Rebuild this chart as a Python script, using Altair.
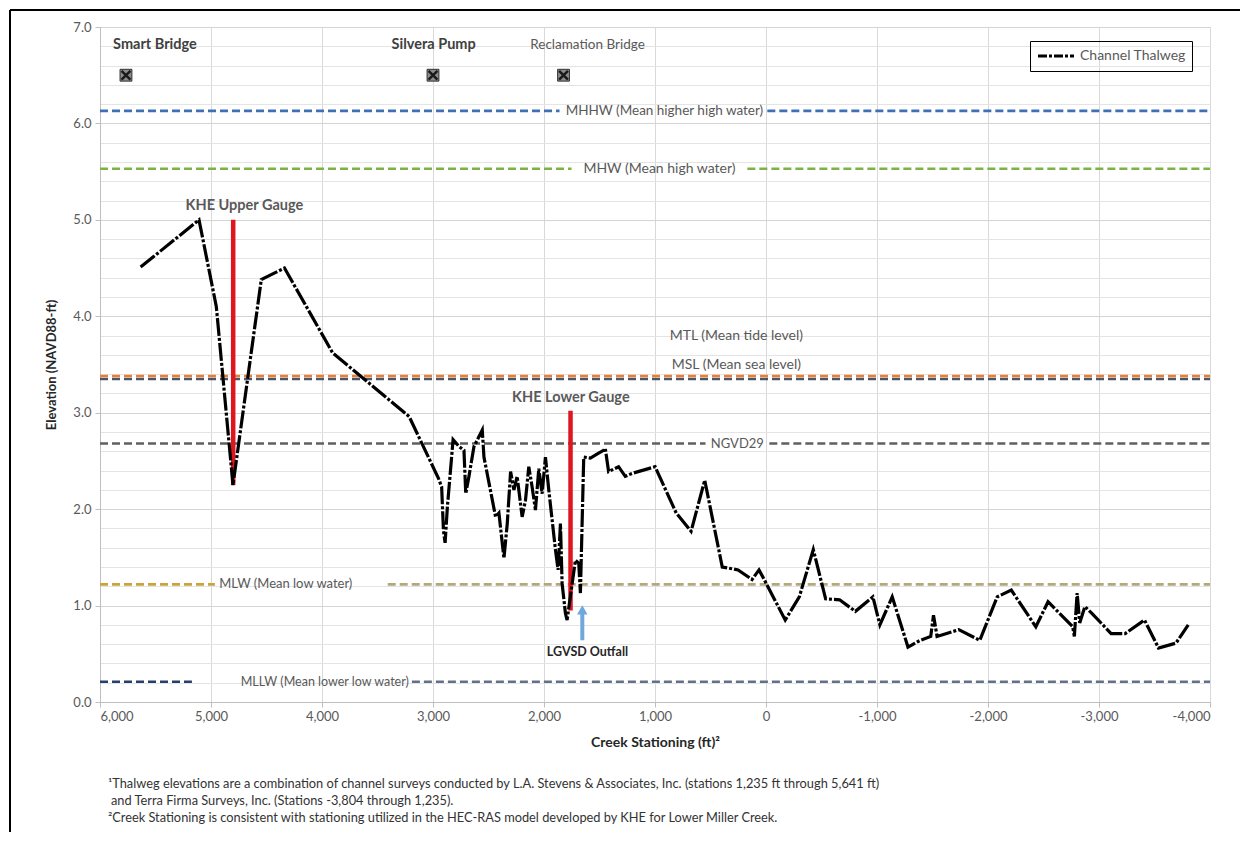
import altair as alt
import pandas as pd

# ---------------- data ----------------
thal_station = [5634, 5108, 4952, 4802, 4547, 4338, 3904, 3215, 2951, 2922, 2906, 2891, 2870,
                2819, 2765, 2721, 2705, 2676, 2631, 2556, 2541, 2436, 2406, 2361, 2331, 2301,
                2271, 2242, 2197, 2167, 2137, 2107, 2077, 2047, 2017, 1987, 1957, 1897, 1873,
                1852, 1837, 1807, 1792, 1717, 1687, 1672, 1642, 1582, 1508, 1463, 1448, 1433,
                1418, 1328, 1268, 1208, 999, 809, 675, 552, 394, 252, 126, 63, 16, -173, -300,
                -426, -537, -663, -805, -963, -1026, -1137, -1279, -1390, -1484, -1509, -1541,
                -1737, -1926, -2083, -2210, -2431, -2541, -2763, -2778, -2803, -2826, -2873,
                -2936, -3109, -3236, -3410, -3536, -3693, -3804]
thal_elev = [4.51, 5.00, 4.10, 2.25, 4.38, 4.50, 3.62, 2.96, 2.32, 2.23, 1.78, 1.65, 2.03,
             2.72, 2.65, 2.61, 2.16, 2.34, 2.65, 2.82, 2.54, 1.92, 1.96, 1.49, 1.85, 2.39,
             2.20, 2.34, 1.92, 2.09, 2.44, 2.23, 1.99, 2.42, 2.16, 2.54, 2.20, 1.58, 1.37,
             1.85, 1.23, 0.92, 0.85, 1.47, 1.44, 1.13, 2.54, 2.53, 2.58, 2.61, 2.63, 2.51,
             2.39, 2.44, 2.34, 2.37, 2.44, 1.96, 1.77, 2.30, 1.40, 1.37, 1.27, 1.37, 1.27,
             0.85, 1.09, 1.58, 1.07, 1.06, 0.94, 1.09, 0.80, 1.09, 0.57, 0.64, 0.68, 0.90,
             0.68, 0.75, 0.64, 1.09, 1.16, 0.78, 1.04, 0.78, 0.68, 1.13, 0.82, 0.99, 0.92,
             0.71, 0.71, 0.85, 0.56, 0.61, 0.80]

# tidal datums: segments (start station, end station, elevation, colour)
datum_names = ["MHHW", "MHHW", "MHW", "MHW", "MTL", "MSL", "NGVD29", "NGVD29", "MLW", "MLW", "MLLW", "MLLW"]
datum_start = [6000, -12, 6000, 168, 6000, 6000, 6000, -30, 6000, 3408, 6000, 3190]
datum_end = [1860, -4000, 1752, -4000, -4000, -4000, 545, -4000, 4965, -4000, 5172, -4000]
datum_elev = [6.13, 6.13, 5.53, 5.53, 3.38, 3.35, 2.68, 2.68, 1.22, 1.22, 0.21, 0.21]
datum_color = ["#3f6fb5", "#3f6fb5", "#7cb342", "#7cb342", "#ed7d31", "#4a5568",
               "#606060", "#606060", "#c9a43a", "#b3a77e", "#24406e", "#62708e"]

datum_label_text = ["MHHW (Mean higher high water)", "MHW (Mean high water)", "MTL (Mean tide level)",
                    "MSL (Mean sea level)", "NGVD29", "MLW (Mean low water)", "MLLW (Mean lower low water)"]
datum_label_station = [915, 960, 267, 267, 258, 4326, 3975]
datum_label_elev = [6.13, 5.53, 3.80, 3.50, 2.68, 1.22, 0.21]
datum_label_size = [13.5, 14, 14, 14, 13, 13, 12.5]

# landmarks along top
landmark_names = ["Smart Bridge", "Silvera Pump", "Reclamation Bridge"]
landmark_station = [5766, 3000, 1824]
landmark_label_station = [5505, 2994, 1608]
landmark_marker_elev = 6.5
landmark_label_elev = 6.81
landmark_bold = [True, True, False]

# gauges
gauge_names = ["KHE Upper Gauge", "KHE Lower Gauge"]
gauge_station = [4800, 1761]
gauge_bottom = [2.25, 0.95]
gauge_top = [5.0, 3.02]
gauge_label_station = [4699, 1758]
gauge_label_elev = [5.14, 3.15]

outfall_name = "LGVSD Outfall"
outfall_station = 1655
outfall_bottom = 0.64
outfall_top = 0.93
outfall_head = 0.955
outfall_label_station = 1608
outfall_label_elev = 0.52

x_ticks = [6000, 5000, 4000, 3000, 2000, 1000, 0, -1000, -2000, -3000, -4000]
y_grid = [round(i * 0.2, 1) for i in range(36)]

footnotes = [
    "¹Thalweg elevations are a combination of channel surveys conducted by L.A. Stevens & Associates, Inc. (stations 1,235 ft through 5,641 ft)",
    " and Terra Firma Surveys, Inc. (Stations -3,804 through 1,235).",
    "²Creek Stationing is consistent with stationing utilized in the HEC-RAS model developed by KHE for Lower Miller Creek.",
]

FONT = "Lato"

# ---------------- encodings ----------------
x_enc = alt.X("station:Q",
              scale=alt.Scale(domain=[-4000, 6000], reverse=True, nice=False, zero=False),
              axis=alt.Axis(values=x_ticks, title="Creek Stationing (ft)²",
                            labelExpr="replace(format(datum.value, ','), '\u2212', '-')",
                            grid=True, gridColor="#d9d9d9", gridWidth=1,
                            domainColor="#bfbfbf", tickColor="#bfbfbf", tickSize=5,
                            labelPadding=3, labelFont=FONT, labelFontSize=13, labelColor="#595959",
                            titleFont=FONT, titleFontSize=14, titleFontWeight="bold",
                            titleColor="#262626", titlePadding=12))
y_enc = alt.Y("elev:Q",
              scale=alt.Scale(domain=[0, 7], nice=False, zero=True),
              axis=alt.Axis(values=y_grid, title="Elevation (NAVD88-ft)",
                            labelExpr="abs(datum.value - round(datum.value)) < 0.001 ? format(datum.value, '.1f') : ''",
                            grid=True,
                            gridColor={"condition": {"test": "abs(datum.value - round(datum.value)) < 0.001", "value": "#d4d4d4"}, "value": "#e4e4e4"},
                            tickOpacity={"condition": {"test": "abs(datum.value - round(datum.value)) < 0.001", "value": 1}, "value": 0},
                            domainColor="#bfbfbf", tickColor="#bfbfbf", tickSize=5,
                            labelPadding=4, labelFont=FONT, labelFontSize=13, labelColor="#595959",
                            titleFont=FONT, titleFontSize=13, titleFontWeight="bold",
                            titleColor="#262626", titlePadding=14))

# ---------------- layers ----------------
thal_df = pd.DataFrame({"station": thal_station, "elev": thal_elev,
                        "idx": list(range(len(thal_station))),
                        "series": ["Channel Thalweg"] * len(thal_station)})

datum_df = pd.DataFrame({"station": datum_start, "station2": datum_end, "elev": datum_elev,
                         "color": datum_color, "name": datum_names})
datum_lines = alt.Chart(datum_df).mark_rule(strokeWidth=2.6, strokeDash=[8, 4]).encode(
    x=x_enc, x2="station2:Q", y=y_enc, color=alt.Color("color:N", scale=None))

datum_labels = alt.Chart(pd.DataFrame({"station": datum_label_station, "elev": datum_label_elev,
                                       "text": datum_label_text, "fs": datum_label_size})).mark_text(
    font=FONT, color="#595959", align="center", baseline="middle").encode(
    x=x_enc, y=y_enc, text="text:N", size=alt.Size("fs:Q", scale=None))

thal_line = alt.Chart(thal_df).mark_line(strokeWidth=3.2, strokeDash=[18, 2, 3, 2]).encode(
    x=x_enc, y=y_enc, order="idx:Q",
    color=alt.Color("series:N", scale=alt.Scale(range=["black"]),
                    legend=alt.Legend(orient="none", legendX=930, legendY=14, title=None,
                                      strokeColor="black", padding=6, symbolType="stroke",
                                      symbolStrokeWidth=3, symbolDash=[9, 2, 3, 2], symbolSize=1300,
                                      symbolStrokeColor="black", clipHeight=18,
                                      labelFont=FONT, labelFontSize=14, labelColor="#595959")))

gauge_df = pd.DataFrame({"station": gauge_station, "elev": gauge_bottom, "elev2": gauge_top})
gauge_rules = alt.Chart(gauge_df).mark_rule(strokeWidth=4.5, color="#e0161f").encode(
    x=x_enc, y=y_enc, y2="elev2:Q")
gauge_labels = alt.Chart(pd.DataFrame({"station": gauge_label_station, "elev": gauge_label_elev,
                                       "text": gauge_names})).mark_text(
    font=FONT, fontSize=14.5, fontWeight="bold", color="#595959", baseline="middle").encode(
    x=x_enc, y=y_enc, text="text:N")

out_df = pd.DataFrame({"station": [outfall_station], "elev": [outfall_bottom], "elev2": [outfall_top]})
out_rule = alt.Chart(out_df).mark_rule(strokeWidth=4, color="#6fa8dc").encode(
    x=x_enc, y=y_enc, y2="elev2:Q")
out_head = alt.Chart(pd.DataFrame({"station": [outfall_station], "elev": [outfall_head]})).mark_point(
    shape="triangle-up", filled=True, size=110, color="#6fa8dc", opacity=1).encode(x=x_enc, y=y_enc)
out_label = alt.Chart(pd.DataFrame({"station": [outfall_label_station], "elev": [outfall_label_elev],
                                    "text": [outfall_name]})).mark_text(
    font=FONT, fontSize=12.5, fontWeight="bold", color="#262626", baseline="middle").encode(
    x=x_enc, y=y_enc, text="text:N")

lm_df = pd.DataFrame({"station": landmark_station, "elev": [landmark_marker_elev] * 3})
lm_square = alt.Chart(lm_df).mark_point(shape="square", filled=True, size=140, color="#8c8c8c",
                                        opacity=1, stroke="#303030", strokeWidth=1).encode(x=x_enc, y=y_enc)
lm_cross = alt.Chart(lm_df).mark_point(shape="M-0.75,-0.75L0.75,0.75M0.75,-0.75L-0.75,0.75",
                                       filled=False, size=140, color="#1a1a1a", strokeWidth=2.5,
                                       opacity=1).encode(x=x_enc, y=y_enc)
lm_lab_df = pd.DataFrame({"station": landmark_label_station, "elev": [landmark_label_elev] * 3,
                          "text": landmark_names,
                          "w": ["bold" if b else "normal" for b in landmark_bold]})
lm_labels_b = alt.Chart(lm_lab_df[lm_lab_df.w == "bold"]).mark_text(
    font=FONT, fontSize=14.5, fontWeight="bold", color="#404040", baseline="middle").encode(
    x=x_enc, y=y_enc, text="text:N")
lm_labels_n = alt.Chart(lm_lab_df[lm_lab_df.w == "normal"]).mark_text(
    font=FONT, fontSize=13.5, color="#595959", baseline="middle").encode(
    x=x_enc, y=y_enc, text="text:N")

one = pd.DataFrame({"a": [0]})
foot_layers = []
for i, t in enumerate(footnotes):
    foot_layers.append(alt.Chart(one).mark_text(font=FONT, fontSize=12.8, color="#333333",
                                                align="left", baseline="middle").encode(
        x=alt.value(8 + (3 if i == 1 else 0)), y=alt.value(757 + 17 * i), text=alt.value(t)))

frame_left = alt.Chart(one).mark_rule(color="black", strokeWidth=2).encode(
    x=alt.value(-90), y=alt.value(-17), y2=alt.value(820))
frame_top = alt.Chart(one).mark_rule(color="black", strokeWidth=2).encode(
    x=alt.value(-90), x2=alt.value(1160), y=alt.value(-17))

chart = alt.layer(
    datum_lines, datum_labels, gauge_rules, thal_line, out_rule, out_head, out_label,
    gauge_labels, lm_square, lm_cross, lm_labels_b, lm_labels_n, *foot_layers, frame_left, frame_top
).properties(
    width=1110, height=675,
    autosize=alt.AutoSizeParams(type="none"),
    padding={"left": 92, "top": 19, "right": 30, "bottom": 130},
).configure_view(strokeWidth=0).configure_legend(strokeWidth=2).configure(background="white")

chart.save("out.html", embed_options={"renderer": "svg", "actions": False})
